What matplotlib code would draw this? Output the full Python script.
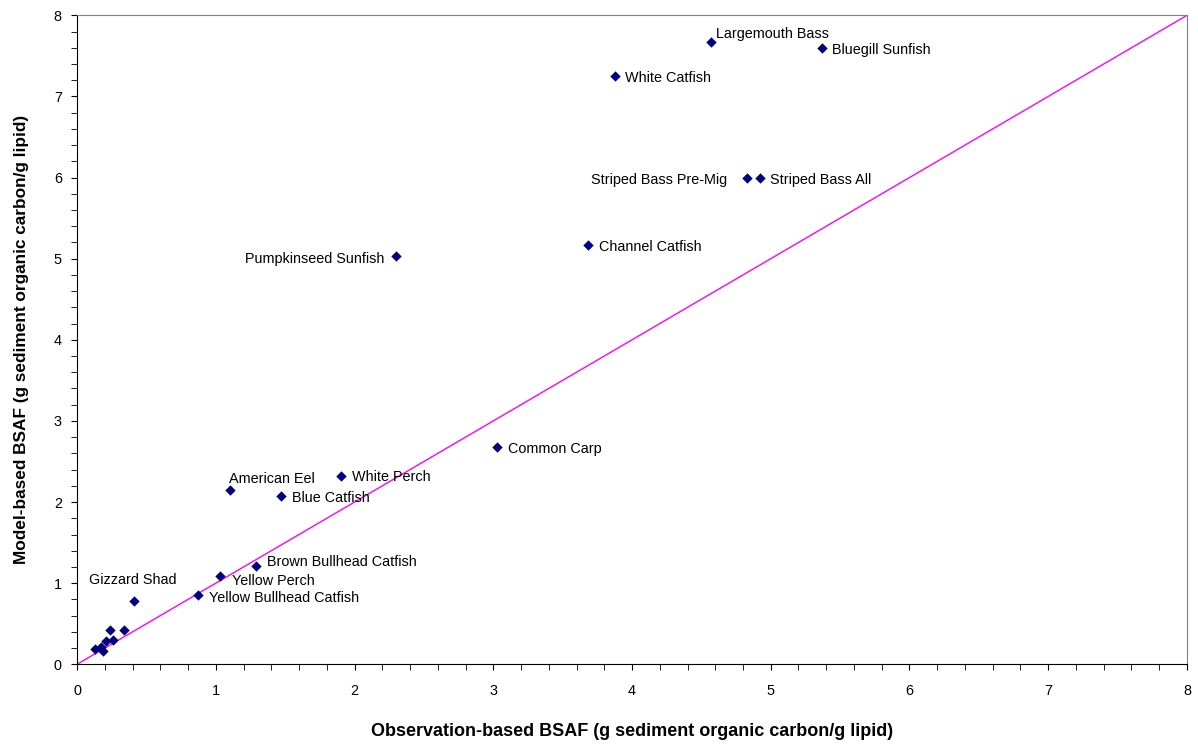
"""Model-based vs observation-based BSAF with 1:1 line."""

import matplotlib
matplotlib.use('Agg')
import matplotlib.pyplot as plt
from matplotlib.ticker import MultipleLocator

plt.rcParams['font.family'] = ['Liberation Sans', 'DejaVu Sans']

# labelled species
names = ['Largemouth Bass', 'Bluegill Sunfish', 'White Catfish',
         'Striped Bass Pre-Mig', 'Striped Bass All', 'Channel Catfish',
         'Pumpkinseed Sunfish', 'Common Carp', 'White Perch', 'American Eel',
         'Blue Catfish', 'Brown Bullhead Catfish', 'Yellow Perch',
         'Yellow Bullhead Catfish', 'Gizzard Shad']
obs = [4.57, 5.37, 3.88, 4.83, 4.92, 3.68, 2.30, 3.03, 1.90, 1.10,
       1.47, 1.29, 1.03, 0.87, 0.41]
model = [7.67, 7.60, 7.25, 6.00, 6.00, 5.17, 5.03, 2.68, 2.32, 2.15,
         2.08, 1.21, 1.09, 0.85, 0.78]

# unlabelled points near origin
obs_small = [0.13, 0.17, 0.19, 0.21, 0.24, 0.26, 0.34]
model_small = [0.19, 0.21, 0.17, 0.29, 0.42, 0.30, 0.42]

# label placement (pixel offsets, horizontal alignment)
label_pos = {
    'Largemouth Bass': (5, 8, 'left'),
    'Bluegill Sunfish': (10, -2, 'left'),
    'White Catfish': (10, -2, 'left'),
    'Striped Bass Pre-Mig': (-20, -2, 'right'),
    'Striped Bass All': (10, -2, 'left'),
    'Channel Catfish': (11, -2, 'left'),
    'Pumpkinseed Sunfish': (-12, -3, 'right'),
    'Common Carp': (11, -2, 'left'),
    'White Perch': (11, -1, 'left'),
    'American Eel': (-1, 11, 'left'),
    'Blue Catfish': (11, -2, 'left'),
    'Brown Bullhead Catfish': (11, 4, 'left'),
    'Yellow Perch': (12, -5, 'left'),
    'Yellow Bullhead Catfish': (11, -3, 'left'),
    'Gizzard Shad': (-1, 21, 'center'),
}

fig = plt.figure(figsize=(11.98, 7.44), dpi=100)
ax = fig.add_axes([0.0643, 0.1071, 0.9265, 0.8723])

ax.plot([0, 8], [0, 8], color='#ff00ff', linewidth=1)
ax.scatter(obs + obs_small, model + model_small, marker='D', s=28,
           color='#000080', zorder=3, linewidths=0)

for n, x, y in zip(names, obs, model):
    dx, dy, ha = label_pos[n]
    ax.annotate(n, (x, y), xytext=(dx, dy), textcoords='offset pixels',
                ha=ha, va='center', fontsize=10.4)

ax.set_xlim(0, 8)
ax.set_ylim(0, 8)
ax.xaxis.set_major_locator(MultipleLocator(1))
ax.yaxis.set_major_locator(MultipleLocator(1))
ax.xaxis.set_minor_locator(MultipleLocator(0.2))
ax.yaxis.set_minor_locator(MultipleLocator(0.2))
ax.tick_params(which='both', direction='out', length=4, labelsize=10.4)
ax.tick_params(axis='x', pad=10)
ax.tick_params(axis='y', pad=7)

ax.spines['top'].set_color('#808080')
ax.spines['right'].set_color('#808080')

ax.set_xlabel('Observation-based BSAF (g sediment organic carbon/g lipid)',
              fontsize=12.95, fontweight='bold', labelpad=18)
ax.set_ylabel('Model-based BSAF (g sediment organic carbon/g lipid)',
              fontsize=12.45, fontweight='bold', labelpad=18)

fig.savefig('out.png', dpi=100)
print("Saved out.png")
